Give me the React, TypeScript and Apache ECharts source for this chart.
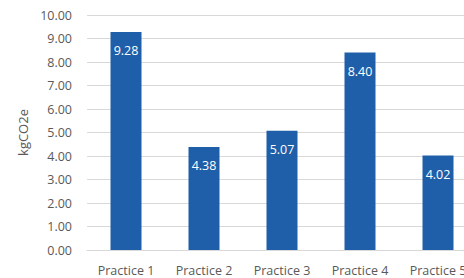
import React, { useEffect, useRef } from "react";
import * as echarts from "echarts";

const categories = ["Practice 1", "Practice 2", "Practice 3", "Practice 4", "Practice 5"];
const values = [9.28, 4.38, 5.07, 8.4, 4.02];
const yAxisName = "kgCO2e";

const FONT = "'Open Sans', 'Noto Sans', sans-serif";
const TEXT = "#595959";

export default function App() {
  const ref = useRef<HTMLDivElement>(null);
  useEffect(() => {
    if (!ref.current) return;
    const chart = echarts.init(ref.current, undefined, { renderer: "svg" });
    chart.setOption({
      animation: false,
      backgroundColor: "#ffffff",
      textStyle: { fontFamily: FONT },
      grid: { left: 87, right: 13, top: 15, bottom: 28 },
      xAxis: {
        type: "category",
        data: categories,
        axisLine: { show: true, lineStyle: { color: "#d9d9d9" } },
        axisTick: { show: false },
        axisLabel: { color: TEXT, fontSize: 12.5, fontFamily: FONT, margin: 14 },
      },
      yAxis: {
        type: "value",
        min: 0,
        max: 10,
        interval: 1,
        name: yAxisName,
        nameLocation: "middle",
        nameGap: 54,
        nameTextStyle: { color: TEXT, fontSize: 13, fontFamily: FONT },
        axisLine: { show: false },
        axisTick: { show: false },
        splitLine: { lineStyle: { color: "#d9d9d9" } },
        axisLabel: {
          color: TEXT,
          fontSize: 12.5,
          fontFamily: FONT,
          margin: 15,
          formatter: (v: number) => v.toFixed(2),
        },
      },
      series: [
        {
          type: "bar",
          data: values,
          barWidth: 31,
          itemStyle: { color: "#1f5ea8" },
          label: {
            show: true,
            position: "insideTop",
            distance: 12,
            color: "#ffffff",
            fontSize: 12.5,
            fontFamily: FONT,
            formatter: (p: any) => Number(p.value).toFixed(2),
          },
        },
      ],
    });
    return () => chart.dispose();
  }, []);
  return (
    <div style={{ position: "fixed", left: 0, top: 0, width: 464, height: 278, overflow: "hidden", background: "#fff" }}>
      <div ref={ref} style={{ width: 490, height: 278 }} />
    </div>
  );
}
